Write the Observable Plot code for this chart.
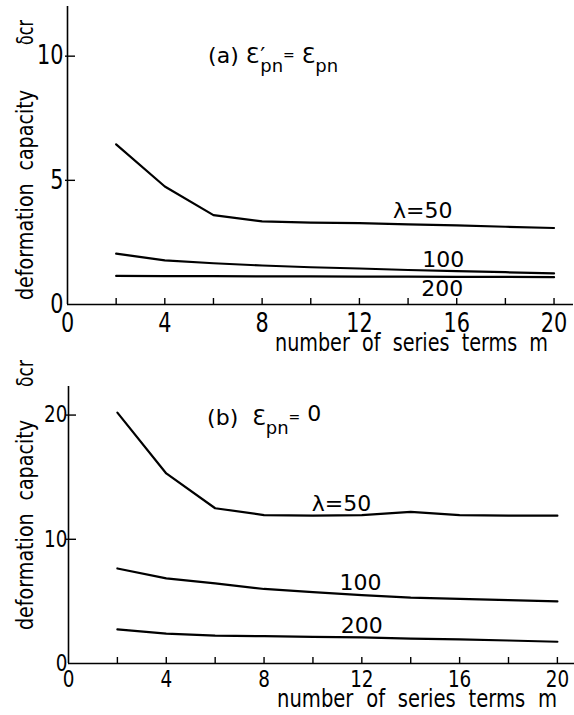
<!DOCTYPE html>
<html><head><meta charset="utf-8">
<script src="https://cdn.jsdelivr.net/npm/d3@7"></script>
<script src="https://cdn.jsdelivr.net/npm/@observablehq/plot@0.6"></script>
<style>
body{margin:0;background:#fff;}
#chart{width:574px;height:715px;overflow:hidden;}
#chart svg{display:block;}
</style></head><body><div id="chart"></div>
<script>
// ---- data ----
const m = [2, 4, 6, 8, 10, 12, 14, 16, 18, 20];
// (a) eps'_pn = eps_pn
const a50  = [6.45, 4.75, 3.6, 3.35, 3.3, 3.28, 3.23, 3.19, 3.13, 3.08];
const a100 = [2.05, 1.78, 1.66, 1.57, 1.5, 1.45, 1.39, 1.34, 1.3, 1.25];
const a200 = [1.15, 1.14, 1.14, 1.13, 1.13, 1.12, 1.12, 1.11, 1.11, 1.1];
// (b) eps_pn = 0
const b50  = [20.2, 15.3, 12.5, 11.95, 11.9, 11.95, 12.2, 11.95, 11.9, 11.9];
const b100 = [7.65, 6.85, 6.45, 6.0, 5.75, 5.5, 5.3, 5.2, 5.1, 5.0];
const b200 = [2.75, 2.4, 2.25, 2.2, 2.15, 2.1, 2.0, 1.95, 1.85, 1.75];
const lambdas = [50, 100, 200];
const lambdaText = ["λ=50", "100", "200"];
const xMajorTicks = [0, 4, 8, 12, 16, 20];
const xMinorTicks = [2, 4, 6, 8, 10, 12, 14, 16, 18, 20];
const yTicksA = [0, 5, 10];
const yTicksB = [0, 10, 20];
// annotation anchors (data units)
const labelAtA = [[14.6, 3.47], [15.45, 1.49], [15.4, 0.36]];
const labelAtB = [[11.17, 12.3], [11.95, 5.88], [12.0, 2.42]];

const FONT = "DejaVu Sans";
const long = (series) => series.flatMap((vals, i) => vals.map((v, j) => ({m: m[j], v, lambda: lambdas[i]})));
const labels = (at) => at.map(([x, y], i) => ({x, y, text: lambdaText[i]}));

function panel({series, yDomain, yTicks, xDomain, height, mt, mb, ml, mr, at, tickPad, tickFont, ytLen, ytPad}) {
  const frameH = height - mt - mb, frameW = 574 - ml - mr;
  return Plot.plot({
    width: 574, height,
    marginLeft: ml, marginRight: mr, marginTop: mt, marginBottom: mb,
    x: {domain: xDomain},
    y: {domain: yDomain},
    style: {fontFamily: FONT, background: "white", color: "black", overflow: "visible"},
    marks: [
      Plot.ruleY([0], {strokeWidth: 1.6}),
      Plot.ruleX([0], {strokeWidth: 1.6}),
      // short upward ticks on the m axis every 2
      Plot.tickX(xMinorTicks, {x: d => d, insetTop: frameH - 6, strokeWidth: 1.4}),
      // short inward ticks on the y axis
      Plot.tickY(yTicks.filter(d => d > 0), {y: d => d, insetRight: frameW - ytLen, dx: -2, strokeWidth: 1.4}),
      Plot.axisX(xMajorTicks, {tickSize: 0, tickPadding: tickPad, fontSize: tickFont, label: null}),
      Plot.axisY(yTicks, {tickSize: 0, tickPadding: ytPad, fontSize: tickFont, label: null}),
      Plot.line(long(series), {x: "m", y: "v", z: "lambda", stroke: "black", strokeWidth: 2.2, curve: "linear"}),
      Plot.text(labels(at), {x: "x", y: "y", text: "text", fontSize: 22, lineAnchor: "bottom", textAnchor: "middle"})
    ]
  });
}

const pA = panel({series: [a50, a100, a200], yDomain: [0, 12], yTicks: yTicksA, xDomain: [0, 20.8],
  height: 358, mt: 6, mb: 54, ml: 67, mr: 1, at: labelAtA, tickPad: 9, tickFont: 26, ytLen: 10, ytPad: 4});
const pB = panel({series: [b50, b100, b200], yDomain: [0, 22.3], yTicks: yTicksB, xDomain: [0, 20.7],
  height: 357, mt: 28, mb: 52, ml: 68, mr: 0, at: labelAtB, tickPad: 7, tickFont: 23, ytLen: 10, ytPad: 1});

const root = document.getElementById("chart");
root.appendChild(pA);
root.appendChild(pB);

function addTitle(svg, x, y, parts) {
  const t = d3.select(svg).append("text").attr("x", x).attr("y", y).attr("text-anchor", "start")
    .attr("font-family", FONT).attr("font-size", 22).attr("fill", "black");
  for (const [s, o] of parts) {
    const ts = t.append("tspan").text(s);
    if (o.dx) ts.attr("dx", o.dx);
    if (o.dy) ts.attr("dy", o.dy);
    if (o.size) ts.attr("font-size", o.size);
  }
}
function addText(svg, s, {x, y, size, length, rotate = false}) {
  d3.select(svg).append("text")
    .attr("transform", `translate(${x},${y})` + (rotate ? " rotate(-90)" : ""))
    .attr("text-anchor", "start")
    .attr("font-family", FONT).attr("font-size", size).attr("fill", "black")
    .attr("textLength", length).attr("lengthAdjust", "spacingAndGlyphs")
    .style("word-spacing", "8px")
    .text(s);
}

const sxA = pA.scale("x"), syA = pA.scale("y");
const sxB = pB.scale("x"), syB = pB.scale("y");
addTitle(pA, sxA.apply(5.8), syA.apply(9.7), [
  ["(a) ", {}], ["Ɛ", {}], ["′", {dx: 1}], ["pn", {dx: -5, dy: 9, size: 18}],
  ["=", {dy: -12, size: 14}], [" Ɛ", {dy: 3}], ["pn", {dy: 9, size: 18}]
]);
addTitle(pB, sxB.apply(5.69), syB.apply(19.16), [
  ["(b)  ", {}], ["Ɛ", {}], ["pn", {dy: 9, size: 18}],
  ["=", {dy: -12, size: 14}], [" 0", {dy: -1}]
]);

// axis titles
addText(pA, "number of series terms m", {x: 275, y: 351, size: 25, length: 273});
addText(pB, "number of series terms m", {x: 277, y: 349, size: 24, length: 280});
addText(pA, "deformation capacity", {x: 33, y: 300, size: 23, length: 210, rotate: true});
addText(pA, "δcr", {x: 33, y: 45, size: 23, length: 25, rotate: true});
addText(pB, "deformation capacity", {x: 33, y: 272, size: 23, length: 210, rotate: true});
addText(pB, "δcr", {x: 33, y: 29, size: 23, length: 27, rotate: true});

// condense tick labels like the narrow drafting lettering
d3.selectAll('#chart g[aria-label$="tick label"] text').each(function() {
  const L = this.getComputedTextLength();
  if (L > 0) {
    this.setAttribute("textLength", (L * 0.8).toFixed(1));
    this.setAttribute("lengthAdjust", "spacingAndGlyphs");
  }
});
</script>
</body></html>
